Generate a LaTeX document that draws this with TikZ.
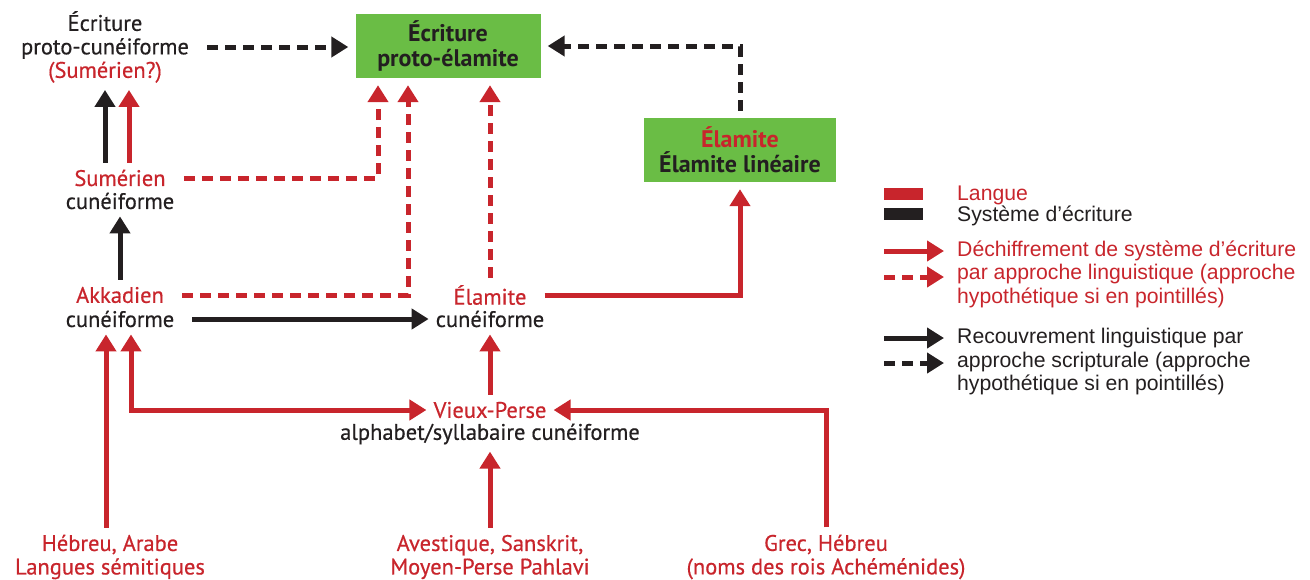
\documentclass[tikz,border=0pt]{standalone}
\usepackage{fontspec}
\setmainfont{PT Sans}
\newfontfamily\diagfont{PT Sans}[FakeBold=0.5]
\newfontfamily\legfont{Liberation Sans}
\usetikzlibrary{positioning, arrows.meta}
\definecolor{langred}{HTML}{C8252C}
\definecolor{inkblack}{HTML}{231F20}
\definecolor{tabgreen}{HTML}{6ABD45}
\tikzset{
  txt/.style={align=center, inner sep=0pt, font=\diagfont\fontsize{22.5}{23.5}\selectfont},
  lang/.style={txt, text=langred},
  script/.style={txt, text=inkblack},
  tablet/.style={align=center, inner sep=0pt, fill=tabgreen, text=inkblack, font=\fontsize{24}{25}\selectfont\bfseries, minimum height=64pt},
  legtext/.style={inner sep=0pt, anchor=west, align=left, font=\legfont\fontsize{21.2}{23.5}\selectfont},
  tip/.style={-{Triangle[length=17pt,width=20pt]}},
  redline/.style={draw=langred, line width=5pt, tip, shorten >=7pt, shorten <=7pt},
  blackline/.style={draw=inkblack, line width=5pt, tip, shorten >=7pt, shorten <=7pt},
  hypo/.style={dash pattern=on 11pt off 7pt},
  fromside/.style={shorten <=18pt},
}
\begin{document}
\begin{tikzpicture}[x=1pt, y=-1pt]
  \useasboundingbox (0,0) rectangle (1310,579);

  \node[script] (pc) at (105,47) {Écriture\\proto-cunéiforme\\\textcolor{langred}{(Sumérien?)}};
  \node[tablet, minimum width=185pt] (pe) at (448,46) {Écriture\\proto-élamite};
  \node[tablet, minimum width=192pt] (el) at (740,150) {\textcolor{langred}{Élamite}\\Élamite linéaire};

  \node[lang] (sumL) at (120,178) {Sumérien};
  \node[script] (sumS) at (120,201) {cunéiforme};
  \node[lang] (akkL) at (120,295) {Akkadien};
  \node[script] (akkS) at (120,319) {cunéiforme};
  \node[lang] (elcL) at (490,295) {Élamite};
  \node[script] (elcS) at (490,319) {cunéiforme};
  \node[lang] (vpL) at (490,410) {Vieux-Perse};
  \node[script] (vpS) at (490,434) {alphabet/syllabaire cunéiforme};

  \node[lang] (heb) at (110,557) {Hébreu, Arabe\\Langues sémitiques};
  \node[lang] (ave) at (490,557) {Avestique, Sanskrit,\\Moyen-Perse Pahlavi};
  \node[lang] (grec) at (826,557) {Grec, Hébreu\\(noms des rois Achéménides)};

  \draw[blackline, hypo, fromside] (pc.east) -- (pc.east -| pe.west);
  \draw[blackline, hypo] (el.north) |- (pe.east);
  \draw[blackline] ([xshift=-15pt]sumL.north) -- ([xshift=-15pt]sumL.north |- pc.south);
  \draw[redline] ([xshift=9pt]sumL.north) -- ([xshift=9pt]sumL.north |- pc.south);
  \draw[blackline] (akkL.north) -- (sumS.south);
  \draw[redline, hypo, fromside] (sumL.east) -| ([xshift=-70pt]pe.south);
  \draw[redline, hypo, fromside] (akkL.east) -| ([xshift=-40pt]pe.south);
  \draw[redline, hypo] (elcL.north) -- (elcL.north |- pe.south);
  \draw[blackline, fromside] (akkS.east) -- (elcS.west);
  \draw[redline, fromside] (elcL.east) -| (el.south);
  \draw[redline] (vpL.north) -- (elcS.south);
  \draw[redline] ([xshift=-4pt]heb.north) -- ([xshift=-4pt]heb.north |- akkS.south);
  \draw[redline, {Triangle[length=17pt,width=20pt]}-{Triangle[length=17pt,width=20pt]}] ([xshift=11pt]akkS.south) |- (vpL.west);
  \draw[redline] (ave.north) -- (vpS.south);
  \draw[redline] (grec.north) |- (vpL.east);

  \fill[langred] (884,188) rectangle (923,200);
  \fill[inkblack] (884,208) rectangle (923,220);
  \node[legtext, text=langred] (lgLang) at (957,195) {Langue};
  \node[legtext, text=inkblack] (lgScript) at (957,216) {Système d’écriture};
  \coordinate (lgR1) at (884,251);
  \coordinate (lgR2) at (884,277);
  \coordinate (lgB1) at (884,338);
  \coordinate (lgB2) at (884,363);
  \draw[redline, shorten <=0pt, shorten >=0pt] (lgR1) -- ++(60,0);
  \draw[redline, hypo, shorten <=0pt, shorten >=0pt] (lgR2) -- ++(60,0);
  \draw[blackline, shorten <=0pt, shorten >=0pt] (lgB1) -- ++(60,0);
  \draw[blackline, hypo, shorten <=0pt, shorten >=0pt] (lgB2) -- ++(60,0);
  \node[legtext, text=langred] (lgDec) at (957,274) {Déchiffrement de système d’écriture\\par approche linguistique (approche\\hypothétique si en pointillés)};
  \node[legtext, text=inkblack] (lgRec) at (957,362) {Recouvrement linguistique par\\approche scripturale (approche\\hypothétique si en pointillés)};
\end{tikzpicture}
\end{document}
